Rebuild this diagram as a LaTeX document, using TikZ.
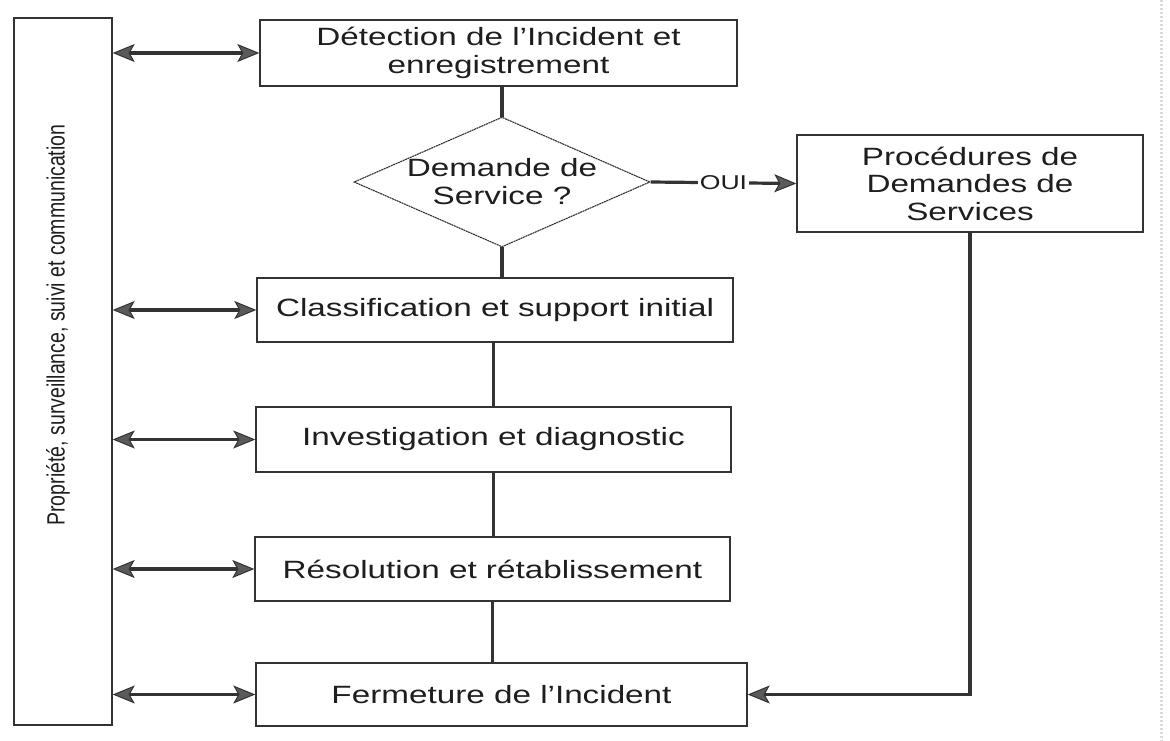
\documentclass[tikz,border=0pt]{standalone}
\usepackage{fontspec}
\setmainfont{Liberation Sans}[FakeStretch=1.33]
\newfontfamily\sidefont{Liberation Sans}[FakeStretch=0.78]
\usetikzlibrary{arrows.meta,shapes.geometric}

\definecolor{ink}{HTML}{1E1E1E}
\definecolor{edge}{HTML}{333333}
\definecolor{tipfill}{HTML}{5A5A5A}

\tikzset{
  box/.style={draw=edge, line width=1.4pt, fill=white, text=ink,
    inner sep=0pt, align=center,
    font=\fontsize{25}{28}\selectfont},
  decision/.style={draw=edge, line width=1.1pt, dash pattern=on 2pt off 0.6pt,
    diamond, aspect=2.28, inner sep=0pt, text=ink, align=center,
    font=\fontsize{25}{28}\selectfont},
  link/.style={draw=edge, line width=3.6pt},
  twoway/.style={draw=edge, line width=3.2pt,
    {Stealth[length=22pt, width=18pt, inset=5pt, fill=tipfill, line width=1pt]}-{Stealth[length=22pt, width=18pt, inset=5pt, fill=tipfill, line width=1pt]}},
  oneway/.style={draw=edge, line width=3.2pt,
    -{Stealth[length=22pt, width=18pt, inset=5pt, fill=tipfill, line width=1pt]}},
}

\begin{document}
\begin{tikzpicture}[x=1pt, y=-1pt]
  \useasboundingbox (0,0) rectangle (1170,741);
  \fill[white] (0,0) rectangle (1170,741);
  % faint margin line on the right
  \draw[black!15, line width=3pt, dash pattern=on 2pt off 2pt] (1161,0) -- (1161,741);

  % side band
  \node[box, minimum width=98pt, minimum height=707pt] (side) at (63,371.5) {};
  \node[rotate=90, text=ink, font=\sidefont\fontsize{25}{28}\selectfont] (sidetxt) at (58,325)
    {Propriété, surveillance, suivi et communication};

  % main column
  \node[box, minimum width=477pt, minimum height=66pt] (det) at (498.5,53)
    {Détection de l’Incident et\\enregistrement};
  \node[decision, minimum width=292pt, minimum height=128pt] (dm) at (502,182)
    {Demande de\\Service ?};
  \node[box, minimum width=476pt, minimum height=64pt] (cls) at (495,310)
    {Classification et support initial};
  \node[box, minimum width=475pt, minimum height=65pt] (inv) at (493.5,439.5)
    {Investigation et diagnostic};
  \node[box, minimum width=475pt, minimum height=64pt] (res) at (492.5,569)
    {Résolution et rétablissement};
  \node[box, minimum width=491pt, minimum height=63pt] (fer) at (501.5,694.5)
    {Fermeture de l’Incident};

  % service request branch
  \node[box, minimum width=346pt, minimum height=97pt,
        font=\fontsize{25}{27.5}\selectfont] (proc) at (970,183.5)
    {Procédures de\\Demandes de\\Services};

  % vertical flow
  \draw[link] (dm.north) -- (dm.north |- det.south);
  \draw[link] (dm.south) -- (dm.south |- cls.north);
  \draw[link] (inv.north) -- (inv.north |- cls.south);
  \draw[link] (inv.south) -- (inv.south |- res.north);
  \draw[link] (res.south) -- (res.south |- fer.north);

  % yes branch and return
  \draw[oneway] (dm.east) -- node[fill=white, inner sep=1.5pt, text=ink,
      font=\fontsize{20}{22}\selectfont] (oui) {OUI} (proc.west);
  \draw[oneway] (proc.south) |- (fer.east);

  % two-way links to the side band
  \draw[twoway] (side.east |- det.west) -- (det.west);
  \draw[twoway] (side.east |- cls.west) -- (cls.west);
  \draw[twoway] (side.east |- inv.west) -- (inv.west);
  \draw[twoway] (side.east |- res.west) -- (res.west);
  \draw[twoway] (side.east |- fer.west) -- (fer.west);
\end{tikzpicture}
\end{document}
